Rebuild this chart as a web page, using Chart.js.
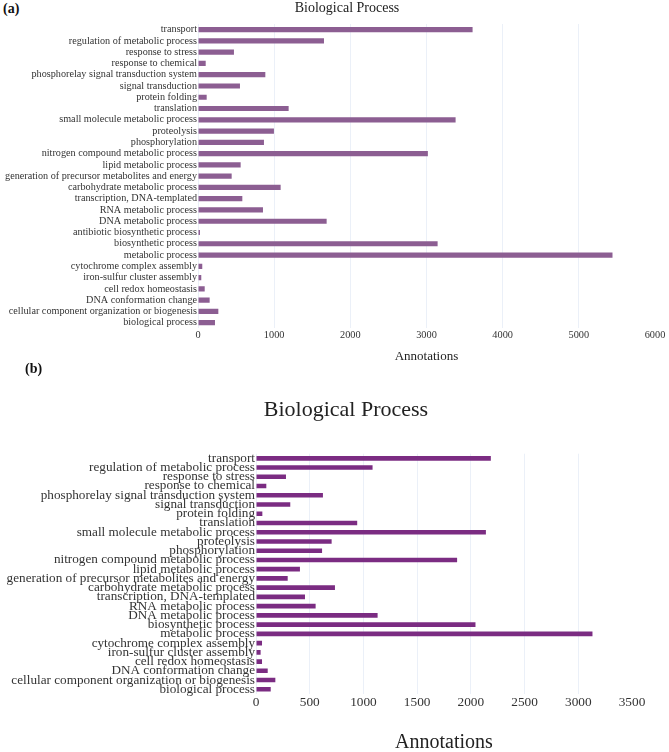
<!DOCTYPE html>
<html>
<head>
<meta charset="utf-8">
<script src="https://cdn.jsdelivr.net/npm/chart.js@4"></script>
<style>
  html, body { margin: 0; padding: 0; background: #fff; overflow: hidden; }
  #wrap { position: relative; width: 669px; height: 752px; }
  canvas { position: absolute; left: 0; }
  .tag { position: absolute; font: bold 14px 'Liberation Serif', serif; color: #111; }
</style>
</head>
<body>
<div id="wrap">
  <div class="tag" style="left:3px; top:1px;">(a)</div>
  <canvas id="chart-a" width="669" height="370" style="top:0"></canvas>
  <div class="tag" style="left:25px; top:361px;">(b)</div>
  <canvas id="chart-b" width="669" height="392" style="top:370px"></canvas>
</div>
<script>
// (a) GO biological process, all annotations
const categoriesA = [
  'transport', 'regulation of metabolic process', 'response to stress', 'response to chemical',
  'phosphorelay signal transduction system', 'signal transduction', 'protein folding', 'translation',
  'small molecule metabolic process', 'proteolysis', 'phosphorylation', 'nitrogen compound metabolic process',
  'lipid metabolic process', 'generation of precursor metabolites and energy', 'carbohydrate metabolic process',
  'transcription, DNA-templated', 'RNA metabolic process', 'DNA metabolic process',
  'antibiotic biosynthetic process', 'biosynthetic process', 'metabolic process',
  'cytochrome complex assembly', 'iron-sulfur cluster assembly', 'cell redox homeostasis',
  'DNA conformation change', 'cellular component organization or biogenesis', 'biological process'
];
const valuesA = [
  3605, 1654, 472, 101, 884, 551, 114, 1190, 3382, 997, 866, 3018, 560, 442, 1085,
  582, 853, 1689, 26, 3146, 5442, 56, 43, 88, 153, 267, 223
];
const ticksA = [0, 1000, 2000, 3000, 4000, 5000, 6000];

// (b) second set, no antibiotic term
const categoriesB = [
  'transport', 'regulation of metabolic process', 'response to stress', 'response to chemical',
  'phosphorelay signal transduction system', 'signal transduction', 'protein folding', 'translation',
  'small molecule metabolic process', 'proteolysis', 'phosphorylation', 'nitrogen compound metabolic process',
  'lipid metabolic process', 'generation of precursor metabolites and energy', 'carbohydrate metabolic process',
  'transcription, DNA-templated', 'RNA metabolic process', 'DNA metabolic process',
  'biosynthetic process', 'metabolic process',
  'cytochrome complex assembly', 'iron-sulfur cluster assembly', 'cell redox homeostasis',
  'DNA conformation change', 'cellular component organization or biogenesis', 'biological process'
];
const valuesB = [
  2186, 1085, 279, 96, 623, 319, 59, 942, 2140, 704, 615, 1872, 409, 295, 735,
  456, 555, 1132, 2043, 3132, 56, 43, 56, 109, 180, 137
];
const ticksB = [0, 500, 1000, 1500, 2000, 2500, 3000, 3500];

Chart.defaults.font.family = "'Liberation Serif', 'Times New Roman', serif";
Chart.defaults.color = '#333';

const GRID = '#EBF0F8';

// title is centred on the figure, not on the chart area, so draw it by hand
const figTitle = {
  id: 'figTitle',
  afterDraw(chart, args, opts) {
    const ctx = chart.ctx;
    ctx.save();
    ctx.font = `${opts.size}px 'Liberation Serif', serif`;
    ctx.fillStyle = '#222';
    ctx.textAlign = 'center';
    ctx.textBaseline = 'middle';
    ctx.fillText(opts.text, opts.x, opts.y);
    ctx.restore();
  }
};

function makeChart(id, cfg) {
  const tickVals = cfg.ticks;
  const maxV = tickVals[tickVals.length - 1];
  return new Chart(document.getElementById(id), {
    type: 'bar',
    data: {
      labels: cfg.labels,
      datasets: [{
        data: cfg.values,
        backgroundColor: cfg.color,
        borderWidth: 0,
        barPercentage: cfg.barPct,
        categoryPercentage: 1,
      }]
    },
    plugins: [figTitle],
    options: {
      indexAxis: 'y',
      responsive: false,
      animation: false,
      devicePixelRatio: 1,
      layout: { padding: { left: 0, right: cfg.padRight, top: cfg.top, bottom: 0 } },
      plugins: {
        legend: { display: false },
        tooltip: { enabled: false },
        title: { display: false },
        figTitle: { text: 'Biological Process', x: cfg.titleX, y: cfg.titleY, size: cfg.titleSize },
      },
      scales: {
        x: {
          min: 0, max: maxV,
          afterBuildTicks: s => { s.ticks = tickVals.map(v => ({ value: v })); },
          afterFit: s => { s.height = cfg.xHeight; },
          grid: {
            color: c => (c.tick && c.tick.value === maxV) ? 'rgba(0,0,0,0)' : GRID,
            drawTicks: false,
          },
          border: { display: false },
          ticks: {
            font: { size: cfg.xTickSize }, padding: cfg.xTickPad, color: '#333', maxRotation: 0,
            callback: v => String(v),
          },
          title: {
            display: true,
            text: 'Annotations',
            color: '#222',
            font: { size: cfg.xTitleSize },
            padding: { top: 0, bottom: cfg.xTitlePad },
          }
        },
        y: {
          afterFit: s => { s.width = cfg.yWidth; },
          grid: { display: false, drawTicks: false },
          border: { display: false },
          ticks: { autoSkip: false, font: { size: cfg.yTickSize }, padding: 1, color: '#333' },
        }
      }
    }
  });
}

makeChart('chart-a', {
  labels: categoriesA, values: valuesA, ticks: ticksA,
  color: '#8C5E92', barPct: 0.46,
  padRight: 14, top: 24,
  titleX: 347, titleY: 8, titleSize: 14,
  xHeight: 41.7, xTickSize: 10.3, xTickPad: 1, xTitleSize: 13, xTitlePad: 5.2,
  yWidth: 198, yTickSize: 10.2,
});

makeChart('chart-b', {
  labels: categoriesB, values: valuesB, ticks: ticksB,
  color: '#7B2C82', barPct: 0.5,
  padRight: 37, top: 83.7,
  titleX: 346, titleY: 40, titleSize: 22,
  xHeight: 68.1, xTickSize: 13.3, xTickPad: 1.1, xTitleSize: 20, xTitlePad: 7,
  yWidth: 256, yTickSize: 13.2,
});
</script>
</body>
</html>
